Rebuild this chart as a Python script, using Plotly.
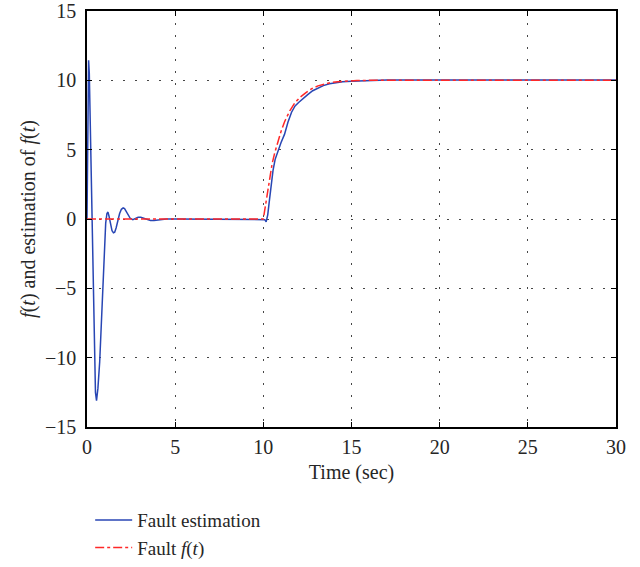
import plotly.graph_objects as go

# Fault estimation (blue solid)
est_t = [0, 0.04, 0.09, 0.13, 0.2, 0.28, 0.36, 0.43, 0.48, 0.54, 0.62, 0.72, 0.82, 0.9, 0.98,
         1.06, 1.13, 1.19, 1.25, 1.33, 1.42, 1.5, 1.57, 1.65, 1.75, 1.85, 1.95, 2.05, 2.13,
         2.22, 2.32, 2.45, 2.6, 2.75, 2.9, 3.05, 3.2, 3.4, 3.6, 3.8, 4.1, 4.5, 5, 7, 9, 10,
         10.08, 10.16, 10.25, 10.35, 10.45, 10.55, 10.67, 10.82, 11.0, 11.2, 11.4, 11.6, 11.8,
         12.0, 12.25, 12.5, 12.8, 13.1, 13.4, 13.75, 14.1, 14.5, 15, 15.5, 16.2, 17, 20, 25, 30]
est_y = [0, 7, 11.45, 10.5, 5.5, 0.5, -4.5, -9.5, -12.5, -13.1, -12.2, -10.3, -7.3, -4.5, -2.0,
         -0.3, 0.4, 0.5, 0.2, -0.4, -0.85, -1.0, -0.95, -0.65, -0.1, 0.4, 0.7, 0.8, 0.75,
         0.55, 0.3, 0.05, -0.05, 0.05, 0.12, 0.13, 0.08, -0.02, -0.1, -0.1, -0.04, 0, 0, 0, 0, 0,
         -0.05, -0.2, 0.3, 1.4, 2.6, 3.5, 4.3, 4.9, 5.5, 6.1, 7.0, 7.7, 8.15,
         8.4, 8.7, 8.95, 9.25, 9.45, 9.62, 9.75, 9.83, 9.9, 9.94, 9.97, 10.0, 10.02, 10.02, 10.02, 10.02]

# Fault f(t) (red dash-dot)
f_t = [0, 5, 10, 10.05, 10.15, 10.25, 10.35, 10.5, 10.65, 10.8, 11.0, 11.2, 11.5, 11.8, 12.1,
       12.4, 12.75, 13.1, 13.4, 13.8, 14.2, 14.7, 15.3, 16, 20, 25, 30]
f_y = [0, 0, 0, 0.4, 1.2, 2.1, 2.9, 4.0, 4.8, 5.5, 6.3, 7.0, 7.8, 8.4, 8.8,
       9.1, 9.4, 9.6, 9.72, 9.83, 9.9, 9.95, 9.98, 10, 10, 10, 10]

x_ticks = [0, 5, 10, 15, 20, 25, 30]
y_ticks = [-15, -10, -5, 0, 5, 10, 15]

FONT = "Liberation Serif, Times New Roman, serif"
TXT = "#262626"

fig = go.Figure()
fig.add_trace(go.Scatter(x=est_t, y=est_y, mode="lines", name="Fault estimation",
                         line=dict(color="rgb(40,70,180)", width=1.5)))
fig.add_trace(go.Scatter(x=f_t, y=f_y, mode="lines", name="Fault <i>f</i>(<i>t</i>)",
                         line=dict(color="rgb(255,40,40)", width=1.5, dash="dashdot")))

axis_common = dict(showline=True, linecolor="black", linewidth=1.5, mirror="ticks",
                   ticks="inside", ticklen=5, tickcolor="black",
                   showgrid=True, gridcolor="rgb(70,70,70)", gridwidth=1, griddash="2px,10px",
                   zeroline=False, ticklabeloverflow="allow",
                   tickfont=dict(family=FONT, size=20, color=TXT))

fig.update_xaxes(range=[0, 30], tickvals=x_ticks, ticklabelstandoff=1,
                 title=dict(text="Time (sec)", font=dict(family=FONT, size=20, color=TXT), standoff=8),
                 **axis_common)
fig.update_yaxes(range=[-15, 15], tickvals=y_ticks, ticklabelstandoff=5,
                 title=dict(text="<i>f</i>(<i>t</i>) and estimation of <i>f</i>(<i>t</i>)",
                            font=dict(family=FONT, size=20, color=TXT), standoff=4),
                 **axis_common)

fig.update_layout(
    width=640, height=567,
    margin=dict(l=87, r=24, t=11, b=140, autoexpand=False),
    paper_bgcolor="white", plot_bgcolor="white",
    showlegend=True,
    legend=dict(x=0.006, y=-0.178, xanchor="left", yanchor="top", itemwidth=37,
                font=dict(family=FONT, size=19, color=TXT),
                bgcolor="rgba(0,0,0,0)", tracegroupgap=0),
)

fig.write_html("out.html")
